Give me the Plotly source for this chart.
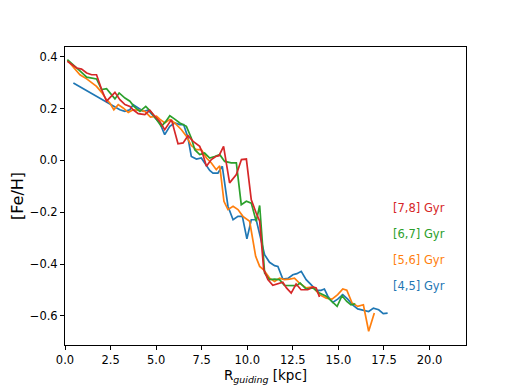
import plotly.graph_objects as go

# [4,5] Gyr (blue)
r_45 = [0.46, 2.19, 2.65, 3.01, 3.28, 3.56, 3.74, 4.02, 4.29, 4.56, 4.84, 5.2, 5.47, 5.75, 6.02,
        6.30, 6.51, 6.75, 6.93, 7.21, 7.48, 7.76, 7.94, 8.12, 8.39, 8.63, 8.76, 8.94, 9.22, 9.49,
        9.73, 9.98, 10.22, 10.49, 10.95, 11.22, 11.5, 11.68, 11.95, 12.23, 12.5, 12.72, 12.96,
        13.23, 13.5, 13.78, 14.05, 14.23, 14.42, 14.69, 14.96, 15.24, 15.51, 15.78, 16.06, 16.37,
        16.66, 16.92, 17.21, 17.46, 17.7]
fe_45 = [0.298, 0.228, 0.208, 0.195, 0.189, 0.195, 0.215, 0.202, 0.189, 0.193, 0.170, 0.144, 0.099,
         0.131, 0.144, 0.138, 0.138, 0.086, 0.015, 0.005, 0.009, -0.023, -0.039, -0.049, -0.049,
         -0.023, -0.087, -0.177, -0.229, -0.216, -0.216, -0.303, -0.229, -0.229, -0.364, -0.393,
         -0.406, -0.409, -0.458, -0.455, -0.441, -0.437, -0.428, -0.460, -0.479, -0.501, -0.501,
         -0.496, -0.524, -0.548, -0.535, -0.518, -0.535, -0.557, -0.573, -0.578, -0.583, -0.570,
         -0.576, -0.591, -0.589]

# [5,6] Gyr (orange)
r_56 = [0.13, 0.46, 0.82, 1.19, 1.46, 1.73, 2.01, 2.28, 2.46, 2.68, 2.92, 3.19, 3.47, 3.74, 4.1,
        4.38, 4.69, 5.02, 5.2, 5.47, 5.75, 6.02, 6.39, 6.66, 6.93, 7.21, 7.48, 7.76, 8.03, 8.30,
        8.49, 8.72, 8.94, 9.22, 9.49, 9.76, 10.13, 10.46, 10.68, 10.9, 11.22, 11.5, 11.77, 12.04,
        12.32, 12.59, 12.86, 13.23, 13.6, 13.96, 14.33, 14.65, 14.96, 15.24, 15.46, 15.75, 16.06,
        16.37, 16.66, 16.97]
fe_56 = [0.386, 0.360, 0.330, 0.314, 0.301, 0.285, 0.262, 0.234, 0.221, 0.195, 0.215, 0.202, 0.185,
         0.195, 0.193, 0.189, 0.167, 0.170, 0.159, 0.144, 0.157, 0.144, 0.118, 0.093, 0.057, 0.041,
         0.041, 0.009, -0.010, -0.036, -0.021, -0.158, -0.190, -0.177, -0.190, -0.216, -0.235,
         -0.370, -0.409, -0.422, -0.454, -0.467, -0.454, -0.460, -0.458, -0.454, -0.473, -0.492,
         -0.488, -0.518, -0.531, -0.535, -0.518, -0.496, -0.501, -0.550, -0.563, -0.557, -0.659,
         -0.589]

# [6,7] Gyr (green)
r_67 = [0.13, 0.46, 0.82, 1.19, 1.46, 1.73, 2.01, 2.28, 2.74, 2.97, 3.29, 3.56, 3.78, 4.11, 4.43,
        4.69, 5.02, 5.29, 5.53, 5.75, 6.02, 6.30, 6.66, 6.93, 7.12, 7.39, 7.66, 7.94, 8.21, 8.49,
        8.76, 9.12, 9.40, 9.67, 9.95, 10.22, 10.49, 10.68, 10.95, 11.22, 11.5, 11.77, 12.04, 12.41,
        12.68, 12.9, 13.23, 13.6, 13.96, 14.33, 14.65, 14.93, 15.2, 15.46, 15.69, 15.93]
fe_67 = [0.388, 0.369, 0.345, 0.321, 0.317, 0.314, 0.273, 0.276, 0.237, 0.260, 0.240, 0.228, 0.208,
         0.189, 0.208, 0.189, 0.157, 0.131, 0.150, 0.172, 0.159, 0.144, 0.131, 0.086, 0.041, 0.022,
         0.028, 0.009, 0.015, 0.022, -0.004, -0.010, -0.010, -0.171, -0.158, -0.165, -0.235, -0.174,
         -0.434, -0.460, -0.458, -0.460, -0.482, -0.483, -0.483, -0.473, -0.496, -0.492, -0.512,
         -0.524, -0.544, -0.563, -0.522, -0.544, -0.557, -0.553]

# [7,8] Gyr (red)
r_78 = [0.13, 0.64, 0.91, 1.19, 1.46, 1.73, 2.01, 2.28, 2.74, 3.01, 3.29, 3.56, 3.74, 4.02, 4.38,
        4.65, 4.93, 5.2, 5.47, 5.84, 6.2, 6.48, 6.75, 7.03, 7.39, 7.54, 7.76, 8.03, 8.27, 8.45,
        8.7, 9.03, 9.40, 9.68, 9.95, 10.22, 10.49, 10.68, 10.9, 11.13, 11.4, 11.68, 11.95, 12.15,
        12.41, 12.68, 12.95, 13.32, 13.6, 13.78, 13.96]
fe_78 = [0.382, 0.356, 0.352, 0.337, 0.330, 0.330, 0.273, 0.228, 0.262, 0.234, 0.215, 0.208, 0.195,
         0.180, 0.176, 0.193, 0.170, 0.150, 0.118, 0.157, 0.064, 0.067, 0.095, 0.073, 0.054, 0.028,
         -0.023, 0.003, 0.015, 0.018, 0.054, -0.087, -0.055, 0.003, 0.005, -0.152, -0.203, -0.235,
         -0.420, -0.460, -0.482, -0.477, -0.470, -0.492, -0.512, -0.477, -0.499, -0.499, -0.488,
         -0.492, -0.527]

series_labels = ["[4,5] Gyr", "[5,6] Gyr", "[6,7] Gyr", "[7,8] Gyr"]
series_colors = ["#1f77b4", "#ff7f0e", "#2ca02c", "#d62728"]
xs = [r_45, r_56, r_67, r_78]
ys = [fe_45, fe_56, fe_67, fe_78]
label_y = [-0.5, -0.4, -0.3, -0.2]
label_x = 17.9

x_ticks = [0, 2.5, 5, 7.5, 10, 12.5, 15, 17.5, 20]
y_ticks = [-0.6, -0.4, -0.2, 0.0, 0.2, 0.4]

fig = go.Figure()
for x, y, name, c in zip(xs, ys, series_labels, series_colors):
    fig.add_trace(go.Scatter(x=x, y=y, mode="lines", name=name,
                             line=dict(color=c, width=1.7), showlegend=False))

for name, c, ly in zip(series_labels, series_colors, label_y):
    fig.add_annotation(x=label_x, y=ly, text=name, showarrow=False, xref="x", yref="y",
                       xanchor="left", yanchor="middle", yshift=4,
                       font=dict(color=c, size=11.5, family="DejaVu Sans"))

axis_common = dict(showgrid=False, zeroline=False, showline=True, linecolor="black",
                   linewidth=1, mirror=True, ticks="outside", ticklen=4, tickwidth=1,
                   tickcolor="black", automargin=False,
                   tickfont=dict(size=11.5, color="black", family="DejaVu Sans"))

fig.update_xaxes(range=[0, 22], tickvals=x_ticks, tickformat=".1f",
                 title=dict(text="R<sub><i>guiding</i></sub> [kpc]",
                            font=dict(size=13.5, color="black", family="DejaVu Sans"), standoff=4),
                 **axis_common)
fig.update_yaxes(range=[-0.712, 0.437], tickvals=y_ticks, tickformat=".1f",
                 title=dict(text="[Fe/H]", font=dict(size=16, color="black", family="DejaVu Sans"),
                            standoff=5),
                 **axis_common)

# page body has an 8px default margin, so the figure is offset by 8px
fig.update_layout(width=510, height=380, margin=dict(l=57, r=52, t=39, b=43),
                  plot_bgcolor="white", paper_bgcolor="white",
                  font=dict(family="DejaVu Sans", color="black"))

fig.write_html("out.html")
